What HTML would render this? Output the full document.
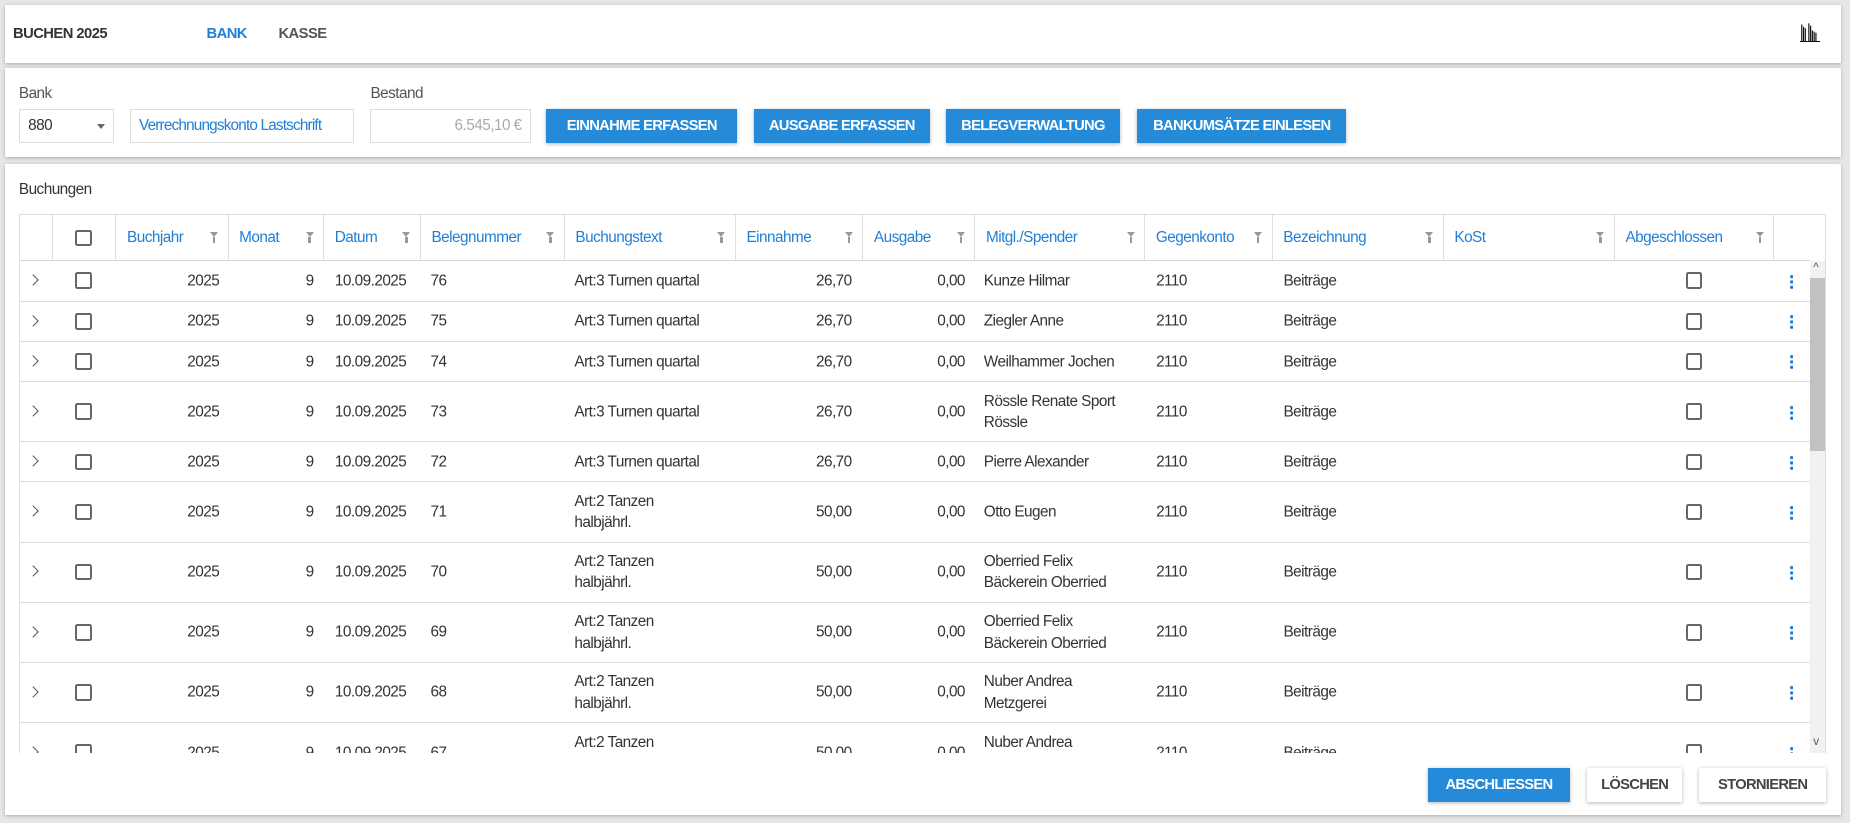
<!DOCTYPE html>
<html><head><meta charset="utf-8"><style>
*{box-sizing:border-box;margin:0;padding:0}
html,body{width:1850px;height:823px;overflow:hidden;background:#e6e6e6}
#root{position:relative;width:1568px;height:698px;zoom:1.17985;font-family:"Liberation Sans Narrow","Liberation Sans",sans-serif;font-size:13px;color:#333;letter-spacing:-0.45px}
.card{position:absolute;background:#fff;box-shadow:0 1px 3px rgba(0,0,0,.25)}
.a{position:absolute;white-space:nowrap}
.blue{color:#1f7fd6}
.btn{position:absolute;background:#258bd8;color:#fff;font-weight:bold;font-size:12.5px;letter-spacing:-0.6px;text-align:center;line-height:29px;box-shadow:0 1px 3px rgba(0,0,0,.3);top:92px;height:29px}
.wbtn{position:absolute;background:#fff;color:#444;font-weight:bold;font-size:12.5px;letter-spacing:-0.6px;text-align:center;line-height:29px;box-shadow:0 1px 3px rgba(0,0,0,.3);top:651px;height:29px}
.inp{position:absolute;top:92px;height:29px;border:1px solid #ddd;line-height:27px;padding:0 7px;white-space:nowrap;overflow:hidden}
#tbl{position:absolute;left:16px;top:181px;width:1532px;height:457px;overflow:hidden;border:1px solid #ddd;border-bottom:none}
.hd{position:absolute;top:0;height:39px;border-bottom:1px solid #d6d6d6;width:1517px;left:0}
.hc{position:absolute;top:0;height:39px;border-left:1px solid #ddd;line-height:39px;padding-left:9px;color:#1f7fd6}
.fi{position:absolute;right:8px;top:15px;width:0;height:0;border-left:4px solid transparent;border-right:4px solid transparent;border-top:5px solid #999}
.fi:after{content:"";position:absolute;left:-1px;top:0;width:2px;height:5px;background:#999}
.row{position:absolute;left:0;width:1517px;border-bottom:1px solid #ddd}
.row .a{top:50%;transform:translateY(-50%);line-height:18px}
.cb{position:absolute;width:14px;height:14px;border:2px solid #666;border-radius:2px}
.r .cb{top:50%;margin-top:-7px}
.chev{position:absolute;left:8px;top:50%;margin-top:-4px;width:7px;height:7px;border-right:1.5px solid #555;border-top:1.5px solid #555;transform:rotate(45deg)}
.dots{position:absolute;left:1500px;top:50%;margin-top:-6px;width:3px;height:13px;background:radial-gradient(circle,#1f7fd6 1.4px,transparent 1.6px) 0 0/3px 4.5px repeat-y}
</style></head><body><div id="root">
<div class="card" style="left:4px;top:4px;width:1556px;height:49px">
<div class="a" style="left:7px;top:18px;font-weight:bold;font-size:12.5px">BUCHEN 2025</div>
<div class="a blue" style="left:171px;top:18px;font-weight:bold;font-size:12.5px">BANK</div>
<div class="a" style="left:232px;top:18px;font-weight:bold;font-size:12.5px;color:#555">KASSE</div>
<svg style="position:absolute;left:1522px;top:14px" width="18" height="18"><g fill="none" stroke="#111" stroke-width="1"><path d="M1.5 17V3M4.5 17V6M7.5 17V2M10.5 17V8M13.5 17V10M0 17.5H17"/><path d="M3 17V5M9 17V4M12 17V9"/></g></svg>
</div>
<div class="card" style="left:4px;top:58px;width:1556px;height:75px"></div>
<div class="a" style="left:16px;top:72px;color:#555">Bank</div>
<div class="inp" style="left:16px;width:81px">880<span style="position:absolute;right:7px;top:12px;border-left:4px solid transparent;border-right:4px solid transparent;border-top:5px solid #666"></span></div>
<div class="inp blue" style="left:110px;width:190px;letter-spacing:-0.7px">Verrechnungskonto Lastschrift</div>
<div class="a" style="left:314px;top:72px;color:#555">Bestand</div>
<div class="inp" style="left:314px;width:136px;text-align:right;color:#aaa">6.545,10 €</div>
<div class="btn" style="left:463px;width:162px">EINNAHME ERFASSEN</div>
<div class="btn" style="left:639px;width:149px">AUSGABE ERFASSEN</div>
<div class="btn" style="left:802px;width:147px">BELEGVERWALTUNG</div>
<div class="btn" style="left:964px;width:177px">BANKUMSÄTZE EINLESEN</div>
<div class="card" style="left:4px;top:139px;width:1556px;height:552px"></div>
<div class="a" style="left:16px;top:153px">Buchungen</div>
<div id="tbl">
<div class="hd">
<div class="hc" style="left:27px;width:54px"><div class="cb" style="left:19px;top:13px"></div></div>
<div class="hc" style="left:81px;width:95px">Buchjahr<i class="fi"></i></div>
<div class="hc" style="left:176px;width:81px">Monat<i class="fi"></i></div>
<div class="hc" style="left:257px;width:82px">Datum<i class="fi"></i></div>
<div class="hc" style="left:339px;width:122px">Belegnummer<i class="fi"></i></div>
<div class="hc" style="left:461px;width:145px">Buchungstext<i class="fi"></i></div>
<div class="hc" style="left:606px;width:108px">Einnahme<i class="fi"></i></div>
<div class="hc" style="left:714px;width:95px">Ausgabe<i class="fi"></i></div>
<div class="hc" style="left:809px;width:144px">Mitgl./Spender<i class="fi"></i></div>
<div class="hc" style="left:953px;width:108px">Gegenkonto<i class="fi"></i></div>
<div class="hc" style="left:1061px;width:145px">Bezeichnung<i class="fi"></i></div>
<div class="hc" style="left:1206px;width:145px">KoSt<i class="fi"></i></div>
<div class="hc" style="left:1351px;width:135px">Abgeschlossen<i class="fi"></i></div>
<div class="hc" style="left:1486px;width:31px"></div>
</div>
<div style="position:absolute;left:1517px;top:39px;width:15px;height:418px;background:#f1f1f1"></div>
<div style="position:absolute;left:1517px;top:54px;width:15px;height:146px;background:#c1c1c1"></div>
<div class="a" style="left:1520px;top:39px;font-size:10px;color:#555">^</div>
<div class="a" style="left:1520px;top:441px;font-size:10px;color:#555">v</div>
<div id="rows"></div>
</div>
<div class="btn" style="left:1210px;top:651px;width:121px">ABSCHLIESSEN</div>
<div class="wbtn" style="left:1345px;width:81px">LÖSCHEN</div>
<div class="wbtn" style="left:1440px;width:108px">STORNIEREN</div>
</div>
<script>
var d=[[76,"Art:3 Turnen quartal","26,70","Kunze Hilmar",35],[75,"Art:3 Turnen quartal","26,70","Ziegler Anne",34],[74,"Art:3 Turnen quartal","26,70","Weilhammer Jochen",34],[73,"Art:3 Turnen quartal","26,70","Rössle Renate Sport<br>Rössle",51],[72,"Art:3 Turnen quartal","26,70","Pierre Alexander",34],[71,"Art:2 Tanzen<br>halbjährl.","50,00","Otto Eugen",51],[70,"Art:2 Tanzen<br>halbjährl.","50,00","Oberried Felix<br>Bäckerein Oberried",51],[69,"Art:2 Tanzen<br>halbjährl.","50,00","Oberried Felix<br>Bäckerein Oberried",51],[68,"Art:2 Tanzen<br>halbjährl.","50,00","Nuber Andrea<br>Metzgerei",51],[67,"Art:2 Tanzen<br>halbjährl.","50,00","Nuber Andrea<br>Metzgerei",51]];
var y=39,h="";
d.forEach(function(r){
h+='<div class="row r" style="top:'+y+'px;height:'+r[4]+'px"><i class="chev"></i><div class="cb" style="left:47px"></div>'+
'<div class="a" style="right:1348px">2025</div><div class="a" style="right:1268px">9</div>'+
'<div class="a" style="left:267px">10.09.2025</div><div class="a" style="left:348px">'+r[0]+'</div>'+
'<div class="a" style="left:470px">'+r[1]+'</div><div class="a" style="right:812px">'+r[2]+'</div>'+
'<div class="a" style="right:716px">0,00</div><div class="a" style="left:817px">'+r[3]+'</div>'+
'<div class="a" style="left:963px">2110</div><div class="a" style="left:1071px">Beiträge</div>'+
'<div class="cb" style="left:1412px"></div><i class="dots"></i></div>';
y+=r[4];});
document.getElementById('rows').innerHTML=h;
</script>
</body></html>
